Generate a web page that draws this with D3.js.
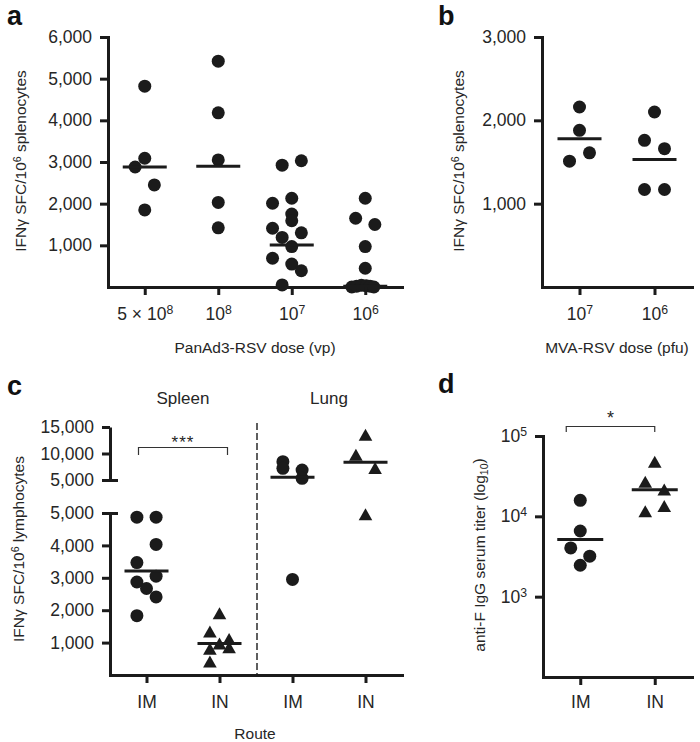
<!DOCTYPE html>
<html><head><meta charset="utf-8">
<script src="https://cdn.jsdelivr.net/npm/d3@7"></script>
<style>body{margin:0;background:#fff}</style>
</head><body><svg id="chart" width="700" height="742"></svg>
<script>
// ---------- DATA ----------
// Panel a
const aCats = ["5e8", "1e8", "1e7", "1e6"];
const aTickBase = ["5 \u00d7 10", "10", "10", "10"];
const aTickExp = ["8", "8", "7", "6"];
const aYTicks = [1000, 2000, 3000, 4000, 5000, 6000];
const aValues = [
  [4820, 3090, 2880, 2450, 1850],
  [5420, 4180, 3050, 2030, 1420],
  [3030, 2925, 2130, 2010, 1750, 1590, 1410, 1300, 1190, 970, 690, 550, 390, 50],
  [2130, 1650, 1500, 970, 450, 0, 20, 40, 30, 20, 0]
];
const aLanes = [
  [0, 0, -1, 1, 0],
  [0, 0, 0, 0, 0],
  [1, -1, 0, -2, 0, 0, -2, 1, -1, 0, -2, 0, 1, -1],
  [0, -1, 1, 0, 0, -1.4, -0.9, -0.4, 0.1, 0.5, 0.9]
];
const aMedians = [2880, 2900, 1010, 20];

// Panel b
const bCats = ["1e7", "1e6"];
const bTickExp = ["7", "6"];
const bYTicks = [1000, 2000, 3000];
const bValues = [
  [2160, 1880, 1610, 1510],
  [2100, 1760, 1660, 1170, 1170]
];
const bLanes = [[0, 0, 1, -1], [0, -1, 1, -1, 1]];
const bMedians = [1780, 1530];

// Panel c
const cCats = ["Spleen IM", "Spleen IN", "Lung IM", "Lung IN"];
const cTickLabels = ["IM", "IN", "IM", "IN"];
const cTissues = ["Spleen", "Lung"];
const cLowerTicks = [1000, 2000, 3000, 4000, 5000];
const cUpperTicks = [5000, 10000, 15000];
const cValues = [
  [4870, 4870, 4030, 3470, 3050, 2870, 2670, 2410, 1830],
  [1900, 1330, 1100, 960, 850, 800, 410],
  [8450, 7200, 6890, 5320, 2950],
  [13490, 9720, 7200, 4950]
];
const cLanes = [
  [-1, 1, 1, -1, 1, -1, 0, 1, -1],
  [0, -1, 1, 0, 1, -1, -1],
  [-1, -1, 1, 1, 0],
  [0, -1, 1, 0]
];
const cSymbols = ["circle", "triangle", "circle", "triangle"];
const cMedians = [3210, 975, 5510, 8340];

// Panel d
const dCats = ["IM", "IN"];
const dYTicks = [1e3, 1e4, 1e5];
const dYExp = ["3", "4", "5"];
const dValues = [
  [15800, 6570, 4040, 3190, 2460],
  [47300, 26700, 21400, 11500, 13300]
];
const dLanes = [[0, 0, -1, 1, 0], [0, -1, 1, -1, 1]];
const dSymbols = ["circle", "triangle"];
const dMedians = [5130, 21400];

// ---------- DRAWING ----------
const FONT = "'Liberation Sans', Arial, Helvetica, sans-serif";
const INK = "#1b1b1b";
const TXT = "#262626";
const TICK_FS = 17.5, TITLE_FS = 15.5;
const svg = d3.select("#chart");
const fmt = d3.format(",");
const R = 6.5;
const triPath = "M0,-6.3L6.8,5.7L-6.8,5.7Z";

function styleAxis(g) {
  g.select(".domain").attr("stroke", INK).attr("stroke-width", 3).attr("stroke-linecap", "square");
  g.selectAll(".tick line").attr("stroke", INK).attr("stroke-width", 3);
  g.selectAll(".tick text").attr("font-size", TICK_FS).attr("font-family", FONT).attr("fill", TXT);
}
function sup(sel, base, exp) {
  sel.text(null);
  sel.append("tspan").text(base);
  sel.append("tspan").attr("dy", "-0.5em").attr("font-size", "0.7em").text(exp);
}
function txt(x, y, s, size, opts = {}) {
  return svg.append("text").attr("x", x).attr("y", y).attr("font-family", FONT)
    .attr("font-size", size).attr("fill", TXT).attr("text-anchor", opts.anchor || "middle")
    .attr("font-weight", opts.weight || "normal").text(s);
}
function yTitle(x, y, parts) {
  const t = svg.append("text").attr("transform", `translate(${x},${y}) rotate(-90)`)
    .attr("text-anchor", "middle").attr("font-family", FONT).attr("font-size", TITLE_FS).attr("fill", TXT);
  parts.forEach(p => {
    const ts = t.append("tspan").text(p.t);
    if (p.sup) ts.attr("dy", "-0.5em").attr("font-size", "0.68em");
    if (p.sub) ts.attr("dy", "0.3em").attr("font-size", "0.68em");
    if (p.back) ts.attr("dy", p.back);
  });
}
function drawGroup(g, cx, yFn, values, lanes, symbol, laneStep) {
  values.forEach((v, i) => {
    const px = cx + lanes[i] * laneStep, py = yFn(v);
    if (symbol === "circle") {
      g.append("circle").attr("cx", px).attr("cy", py).attr("r", R).attr("fill", INK);
    } else {
      g.append("path").attr("d", triPath).attr("transform", `translate(${px},${py})`).attr("fill", INK);
    }
  });
}
function medianLine(g, cx, y, half) {
  g.append("line").attr("x1", cx - half).attr("x2", cx + half).attr("y1", y).attr("y2", y)
    .attr("stroke", INK).attr("stroke-width", 3);
}

// ---- Panel a ----
{
  const x = d3.scalePoint().domain(aCats).range([108, 402]).padding(0.5);
  const y = d3.scaleLinear().domain([0, 6000]).range([287, 37]);
  const g = svg.append("g");
  aCats.forEach((c, i) => {
    drawGroup(g, x(c), y, aValues[i], aLanes[i], "circle", 9.6);
    medianLine(g, x(c), y(aMedians[i]), 22);
  });
  const ya = svg.append("g").attr("transform", "translate(108,0)")
    .call(d3.axisLeft(y).tickValues(aYTicks).tickSize(8).tickSizeOuter(0).tickPadding(8).tickFormat(fmt));
  styleAxis(ya);
  const xa = svg.append("g").attr("transform", "translate(0,287)")
    .call(d3.axisBottom(x).tickSize(8).tickSizeOuter(0));
  styleAxis(xa);
  xa.selectAll(".tick text").attr("y", 33).attr("dy", null).each(function(d, i) { sup(d3.select(this), aTickBase[i], aTickExp[i]); });
  txt(255, 353, "PanAd3-RSV dose (vp)", TITLE_FS);
  yTitle(26, 161, [{t: "IFN\u03b3 SFC/10"}, {t: "6", sup: true}, {t: " splenocytes", back: "0.34em"}]);
  txt(7, 25, "a", 27, {anchor: "start", weight: "bold"}).attr("fill", "#111");
}

// ---- Panel b ----
{
  const x = d3.scalePoint().domain(bCats).range([542, 692]).padding(0.5);
  const y = d3.scaleLinear().domain([0, 3000]).range([287, 37]);
  const g = svg.append("g");
  bCats.forEach((c, i) => {
    drawGroup(g, x(c), y, bValues[i], bLanes[i], "circle", 10);
    medianLine(g, x(c), y(bMedians[i]), 22);
  });
  const ya = svg.append("g").attr("transform", "translate(542,0)")
    .call(d3.axisLeft(y).tickValues(bYTicks).tickSize(8).tickSizeOuter(0).tickPadding(8).tickFormat(fmt));
  styleAxis(ya);
  const xa = svg.append("g").attr("transform", "translate(0,287)")
    .call(d3.axisBottom(x).tickSize(8).tickSizeOuter(0));
  styleAxis(xa);
  xa.selectAll(".tick text").attr("y", 33).attr("dy", null).each(function(d, i) { sup(d3.select(this), "10", bTickExp[i]); });
  txt(617, 353, "MVA-RSV dose (pfu)", TITLE_FS);
  yTitle(464, 161, [{t: "IFN\u03b3 SFC/10"}, {t: "6", sup: true}, {t: " splenocytes", back: "0.34em"}]);
  txt(438, 25, "b", 27, {anchor: "start", weight: "bold"}).attr("fill", "#111");
}

// ---- Panel c ----
{
  const x = d3.scalePoint().domain(cCats).range([110, 402]).padding(0.5);
  const yLow = d3.scaleLinear().domain([0, 5000]).range([675, 513]);
  const yUp = d3.scaleLinear().domain([5000, 15000]).range([480, 427]);
  const y = v => v <= 5000 ? yLow(v) : yUp(v);
  const g = svg.append("g");
  cCats.forEach((c, i) => {
    drawGroup(g, x(c), y, cValues[i], cLanes[i], cSymbols[i], 9.6);
    medianLine(g, x(c), y(cMedians[i]), 22);
  });
  const yl = svg.append("g").attr("transform", "translate(110,0)")
    .call(d3.axisLeft(yLow).tickValues(cLowerTicks).tickSize(8).tickSizeOuter(0).tickPadding(8).tickFormat(fmt));
  styleAxis(yl);
  const yu = svg.append("g").attr("transform", "translate(110,0)")
    .call(d3.axisLeft(yUp).tickValues(cUpperTicks).tickSize(8).tickSizeOuter(0).tickPadding(8).tickFormat(fmt));
  styleAxis(yu);
  yu.select(".domain").attr("stroke-linecap", "butt");
  yl.select(".domain").attr("stroke-linecap", "butt");
  // break caps
  [yUp(5000), yLow(5000)].forEach(yy => {
    svg.append("line").attr("x1", 109).attr("x2", 118).attr("y1", yy + 0.5).attr("y2", yy + 0.5)
      .attr("stroke", INK).attr("stroke-width", 3);
  });
  const xa = svg.append("g").attr("transform", "translate(0,675)")
    .call(d3.axisBottom(x).tickSize(8).tickSizeOuter(0));
  styleAxis(xa);
  xa.selectAll(".tick text").attr("y", 33).attr("dy", null).text((d, i) => cTickLabels[i]);
  // dashed separator
  const sepX = (x(cCats[1]) + x(cCats[2])) / 2 + 1;
  svg.append("line").attr("x1", sepX).attr("x2", sepX).attr("y1", 423).attr("y2", 675)
    .attr("stroke", INK).attr("stroke-width", 1.4).attr("stroke-dasharray", "7,3");
  // tissue labels
  txt((x(cCats[0]) + x(cCats[1])) / 2, 404, cTissues[0], 17);
  txt((x(cCats[2]) + x(cCats[3])) / 2, 404, cTissues[1], 17);
  // significance bracket
  svg.append("path").attr("d", `M${x(cCats[0]) - 8},455V447.5H${x(cCats[1]) + 8}V455`)
    .attr("fill", "none").attr("stroke", "#333").attr("stroke-width", 1.2);
  txt((x(cCats[0]) + x(cCats[1])) / 2, 448, "***", 17).attr("letter-spacing", 1);
  txt(255, 739, "Route", TITLE_FS);
  yTitle(24, 549, [{t: "IFN\u03b3 SFC/10"}, {t: "6", sup: true}, {t: " lymphocytes", back: "0.34em"}]);
  txt(7, 395, "c", 27, {anchor: "start", weight: "bold"}).attr("fill", "#111");
}

// ---- Panel d ----
{
  const x = d3.scalePoint().domain(dCats).range([543, 692]).padding(0.5);
  const y = d3.scaleLog().domain([100, 1e5]).range([677, 436]);
  const g = svg.append("g");
  dCats.forEach((c, i) => {
    drawGroup(g, x(c), y, dValues[i], dLanes[i], dSymbols[i], 9.5);
    medianLine(g, x(c), y(dMedians[i]), 23);
  });
  const ya = svg.append("g").attr("transform", "translate(543,0)")
    .call(d3.axisLeft(y).tickValues(dYTicks).tickSize(8).tickSizeOuter(0).tickPadding(8));
  styleAxis(ya);
  ya.selectAll(".tick text").each(function(d, i) { sup(d3.select(this), "10", dYExp[i]); });
  const xa = svg.append("g").attr("transform", "translate(0,677)")
    .call(d3.axisBottom(x).tickSize(8).tickSizeOuter(0));
  styleAxis(xa);
  xa.selectAll(".tick text").attr("y", 31).attr("dy", null);
  svg.append("path").attr("d", `M${x("IM") - 14},432V426.5H${x("IN")}V432`)
    .attr("fill", "none").attr("stroke", "#333").attr("stroke-width", 1.2);
  txt((x("IM") - 14 + x("IN")) / 2, 424, "*", 18);
  yTitle(485, 555, [{t: "anti-F IgG serum titer (log"}, {t: "10", sub: true}, {t: ")", back: "-0.3em"}]);
  txt(438, 393, "d", 27, {anchor: "start", weight: "bold"}).attr("fill", "#111");
}
</script></body></html>
